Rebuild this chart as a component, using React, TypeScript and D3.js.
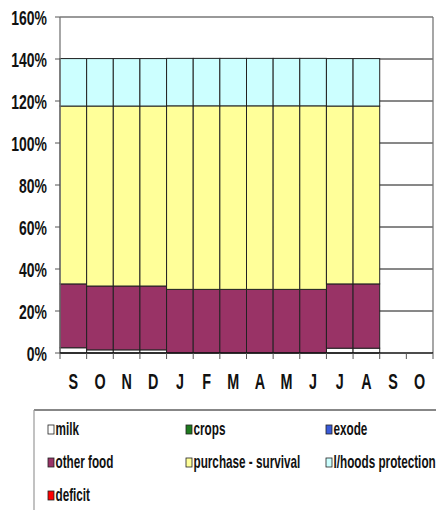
import React from "react";
import * as d3 from "d3";

const months = ["S", "O", "N", "D", "J", "F", "M", "A", "M", "J", "J", "A", "S", "O"];
const milk = [2.5, 1.5, 1.5, 1.5, 0, 0, 0, 0, 0, 0, 2.3, 2.3, 0, 0];
const crops = [0, 0, 0, 0, 0, 0, 0, 0, 0, 0, 0, 0, 0, 0];
const exode = [0, 0, 0, 0, 0, 0, 0, 0, 0, 0, 0, 0, 0, 0];
const otherFood = [30.4, 30.4, 30.4, 30.4, 30.3, 30.3, 30.3, 30.3, 30.3, 30.3, 30.6, 30.6, 0, 0];
const purchaseSurvival = [84.7, 85.7, 85.7, 85.7, 87.4, 87.4, 87.4, 87.4, 87.4, 87.4, 84.7, 84.7, 0, 0];
const livelihoodsProtection = [22.6, 22.6, 22.6, 22.6, 22.6, 22.6, 22.6, 22.6, 22.6, 22.6, 22.6, 22.6, 0, 0];
const deficit = [0, 0, 0, 0, 0, 0, 0, 0, 0, 0, 0, 0, 0, 0];
const yTicks = [0, 20, 40, 60, 80, 100, 120, 140, 160];

const seriesNames = ["milk", "crops", "exode", "other food", "purchase - survival", "l/hoods protection", "deficit"];
const seriesValues = [milk, crops, exode, otherFood, purchaseSurvival, livelihoodsProtection, deficit];
const seriesColors = ["#FFFFFF", "#1E7A1E", "#3A5BD9", "#993366", "#FFFF99", "#CCFFFF", "#FF0000"];

const FONT = "'Liberation Sans', Arial, sans-serif";

function Txt({ x, y, size, anchor, children, sx = 0.82, sy = 1.22 }: any) {
  return (
    <g transform={`translate(${x},${y}) scale(${sx},${sy})`}>
      <text x={0} y={0} fontFamily={FONT} fontWeight="bold" fontSize={size} textAnchor={anchor || "start"} fill="#111">
        {children}
      </text>
    </g>
  );
}

export default function App() {
  const W = 436, H = 510;
  const left = 60, right = 433, top = 17, bottom = 353;
  const idx = months.map((_, i) => i);
  const x = d3.scaleBand<number>().domain(idx).range([left, right]).padding(0);
  const y = d3.scaleLinear().domain([0, 160]).range([bottom, top]);

  const table = idx.map((i) => {
    const row: any = { i };
    seriesNames.forEach((n, k) => (row[n] = seriesValues[k][i]));
    return row;
  });
  const stacked = d3.stack<any>().keys(seriesNames)(table);

  const legendCols = [47, 185, 325];
  const legendRows = [435, 468, 501];

  return (
    <svg width={W} height={H} style={{ position: "absolute", left: 0, top: 0, background: "#fff" }}>
      {yTicks.filter((t) => t > 0 && t < 160).map((t) => (
        <line key={t} x1={left} x2={right} y1={y(t)} y2={y(t)} stroke="#111" strokeWidth={1} />
      ))}
      <line x1={left} x2={right} y1={y(160)} y2={y(160)} stroke="#777" strokeWidth={1.3} />
      <line x1={right} x2={right} y1={y(160)} y2={bottom} stroke="#777" strokeWidth={1.3} />
      {stacked.map((s, k) =>
        s.map((d, i) => {
          const v = seriesValues[k][i];
          if (!v) return null;
          return (
            <rect
              key={`${k}-${i}`}
              x={x(i)!}
              width={x.bandwidth()}
              y={y(d[1])}
              height={y(d[0]) - y(d[1])}
              fill={seriesColors[k]}
              stroke="#222"
              strokeWidth={1}
            />
          );
        })
      )}
      <line x1={left} x2={left} y1={top} y2={bottom} stroke="#777" strokeWidth={1.3} />
      {yTicks.map((t) => (
        <g key={t}>
          <line x1={left - 5} x2={left} y1={y(t)} y2={y(t)} stroke="#555" />
          <Txt x={47} y={y(t) + 7.5} size={17} anchor="end">{`${t}%`}</Txt>
        </g>
      ))}
      <line x1={left} x2={right} y1={bottom} y2={bottom} stroke="#111" strokeWidth={1.3} />
      {d3.range(months.length + 1).map((i) => {
        const xx = i < months.length ? x(i)! : right;
        return <line key={i} x1={xx} x2={xx} y1={bottom} y2={bottom + 6} stroke="#555" />;
      })}
      {months.map((m, i) => (
        <Txt key={i} x={x(i)! + x.bandwidth() / 2} y={389} size={17.5} anchor="middle" sy={1.28}>
          {m}
        </Txt>
      ))}
      <line x1={34} x2={W} y1={410} y2={410} stroke="#111" strokeWidth={1.2} />
      <line x1={34} x2={34} y1={410} y2={H} stroke="#999" strokeWidth={1.2} />
      {seriesNames.map((n, k) => {
        const cx = legendCols[k % 3];
        const cy = legendRows[Math.floor(k / 3)];
        return (
          <g key={n}>
            <rect x={cx + 1} y={cy - 10} width={6} height={9} fill={seriesColors[k]} stroke="#222" strokeWidth={0.8} />
            <Txt x={cx + 8.5} y={cy} size={14.3} sy={1.28}>{n}</Txt>
          </g>
        );
      })}
    </svg>
  );
}
